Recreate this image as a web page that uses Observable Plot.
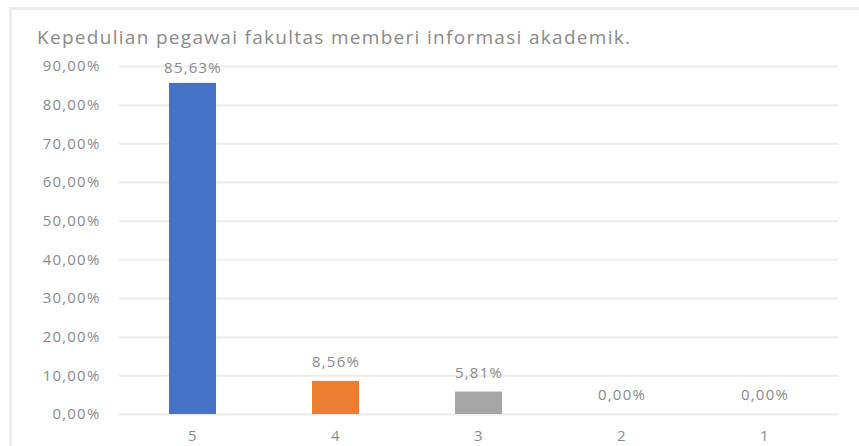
<!DOCTYPE html>
<html>
<head>
<meta charset="utf-8">
<script src="https://cdn.jsdelivr.net/npm/d3@7"></script>
<script src="https://cdn.jsdelivr.net/npm/@observablehq/plot@0.6"></script>
<style>
  html, body { margin: 0; padding: 0; background: #fff; }
  #wrap { position: relative; width: 859px; height: 446px; overflow: hidden; font-family: "Open Sans", "Liberation Sans", sans-serif; }
  #frame { position: absolute; left: 9px; top: 7px; width: 900px; height: 500px; border-left: 3px solid #ececec; border-top: 3px solid #ececec; box-sizing: border-box; }
  #title { position: absolute; left: 37px; top: 25px; font-size: 19px; line-height: 24px; color: #8a8a8a; white-space: nowrap; letter-spacing: 1.3px; }
  #chart { position: absolute; left: 0; top: 50px; }
  #chart text { letter-spacing: 1.2px; }
</style>
</head>
<body>
<div id="wrap">
  <div id="frame"></div>
  <div id="title">Kepedulian pegawai fakultas memberi informasi akademik.</div>
  <div id="chart"></div>
</div>
<script>
const categories = ["5", "4", "3", "2", "1"];
const values = [85.63, 8.56, 5.81, 0.00, 0.00];
const colors = ["#4472C4", "#ED7D31", "#A5A5A5", "#FFC000", "#5B9BD5"];
const yTicks = [0, 10, 20, 30, 40, 50, 60, 70, 80, 90];

const fmt = v => v.toFixed(2).replace(".", ",") + "%";
const data = categories.map((c, i) => ({cat: c, value: values[i], color: colors[i]}));
const textColor = "#8a8a8a";
const fs = 15;

const chart = Plot.plot({
  width: 859,
  height: 396,
  marginLeft: 119,
  marginRight: 21,
  marginTop: 16,
  marginBottom: 32,
  style: {fontFamily: "'Open Sans', 'Liberation Sans', sans-serif", fontSize: fs + "px", color: textColor, background: "transparent"},
  x: {domain: categories, paddingInner: 0.67, paddingOuter: 0.335, label: null},
  y: {domain: [0, 90], label: null},
  marks: [
    Plot.gridY(yTicks, {stroke: "#ececec", strokeOpacity: 1, strokeWidth: 2}),
    Plot.barY(data, {x: "cat", y: "value", fill: "color"}),
    Plot.text(data.filter(d => d.value > 50), {x: "cat", y: "value", text: d => fmt(d.value), dy: -15, fill: textColor, fontSize: fs}),
    Plot.text(data.filter(d => d.value <= 50), {x: "cat", y: "value", text: d => fmt(d.value), dy: -19, fill: textColor, fontSize: fs}),
    Plot.axisX({tickSize: 0, tickPadding: 16, fill: textColor, fontSize: fs}),
    Plot.axisY({ticks: yTicks, tickFormat: fmt, tickSize: 0, tickPadding: 19, fill: textColor, fontSize: fs})
  ]
});
document.getElementById("chart").appendChild(chart);
</script>
</body>
</html>
